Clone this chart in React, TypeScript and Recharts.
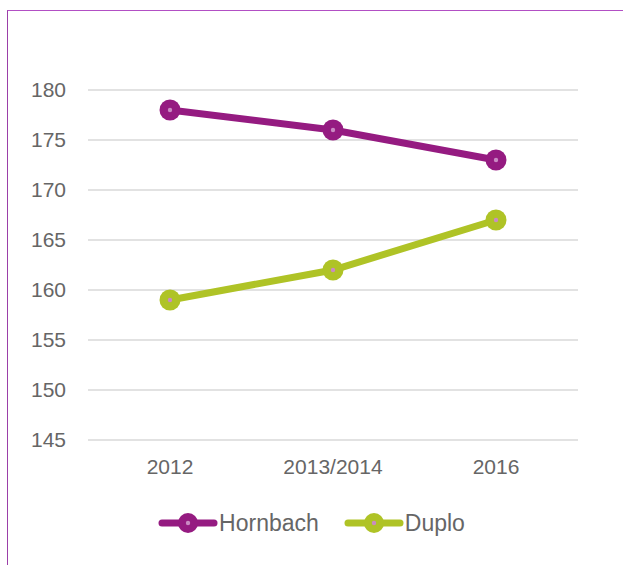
import { LineChart, Line, XAxis, YAxis, CartesianGrid, Legend } from "recharts";

const years = ["2012", "2013/2014", "2016"];
const hornbach = [178, 176, 173];
const duplo = [159, 162, 167];
const yTicks = [145, 150, 155, 160, 165, 170, 175, 180];

const PURPLE = "#951b81";
const GREEN = "#afc326";
const TEXT = "#666666";
const FONT = "'Liberation Sans', Arial, sans-serif";

const data = years.map((year, i) => ({
  year,
  Hornbach: hornbach[i],
  Duplo: duplo[i],
}));

function makeDot(color: string) {
  return (props: any) => {
    const { cx, cy, index } = props;
    if (cx == null || cy == null) return null;
    return (
      <g key={`dot-${color}-${index}`}>
        <circle cx={cx} cy={cy} r={10.5} fill={color} />
        <circle cx={cx} cy={cy} r={2.2} fill="#c98bc3" />
      </g>
    );
  };
}

function LegendIcon({ color }: { color: string }) {
  return (
    <svg width={60} height={24} style={{ display: "block" }}>
      <line x1={4} y1={12} x2={56} y2={12} stroke={color} strokeWidth={7} strokeLinecap="round" />
      <circle cx={30} cy={12} r={10} fill={color} />
      <circle cx={30} cy={12} r={2.2} fill="#c98bc3" />
    </svg>
  );
}

function renderLegend() {
  const items = [
    { name: "Hornbach", color: PURPLE },
    { name: "Duplo", color: GREEN },
  ];
  return (
    <div
      style={{
        display: "flex",
        justifyContent: "center",
        alignItems: "center",
        height: 24,
        gap: 25,
        fontFamily: FONT,
        fontSize: 23,
        color: TEXT,
      }}
    >
      {items.map((it) => (
        <div key={it.name} style={{ display: "flex", alignItems: "center" }}>
          <LegendIcon color={it.color} />
          <span style={{ marginLeft: 1 }}>{it.name}</span>
        </div>
      ))}
    </div>
  );
}

export default function App() {
  return (
    <div style={{ position: "absolute", left: 0, top: 0, width: 623, height: 565, background: "#fff" }}>
      <div
        style={{
          position: "absolute",
          left: 7,
          top: 10,
          right: 0,
          bottom: 0,
          borderTop: "1.5px solid #b24fc4",
          borderLeft: "1.5px solid #9b3fa8",
        }}
      />
      <LineChart
        width={623}
        height={565}
        data={data}
        margin={{ top: 90, right: 45, left: 0, bottom: 30 }}
        style={{ position: "absolute", left: 0, top: 0 }}
      >
        <CartesianGrid vertical={false} stroke="#d9d9d9" strokeWidth={1.5} />
        <XAxis
          dataKey="year"
          axisLine={false}
          tickLine={false}
          height={71}
          tickMargin={13}
          padding={{ left: 82, right: 82 }}
          tick={{ fill: TEXT, fontSize: 21, fontFamily: FONT }}
        />
        <YAxis
          domain={[145, 180]}
          ticks={yTicks}
          width={88}
          axisLine={false}
          tickLine={false}
          tickMargin={16}
          tick={{ fill: TEXT, fontSize: 21, fontFamily: FONT }}
        />
        <Legend
          verticalAlign="bottom"
          height={24}
          content={renderLegend}
          wrapperStyle={{ left: 0, width: 623 }}
        />
        <Line
          dataKey="Hornbach"
          stroke={PURPLE}
          strokeWidth={7}
          dot={makeDot(PURPLE)}
          activeDot={false}
          isAnimationActive={false}
        />
        <Line
          dataKey="Duplo"
          stroke={GREEN}
          strokeWidth={7}
          dot={makeDot(GREEN)}
          activeDot={false}
          isAnimationActive={false}
        />
      </LineChart>
    </div>
  );
}
